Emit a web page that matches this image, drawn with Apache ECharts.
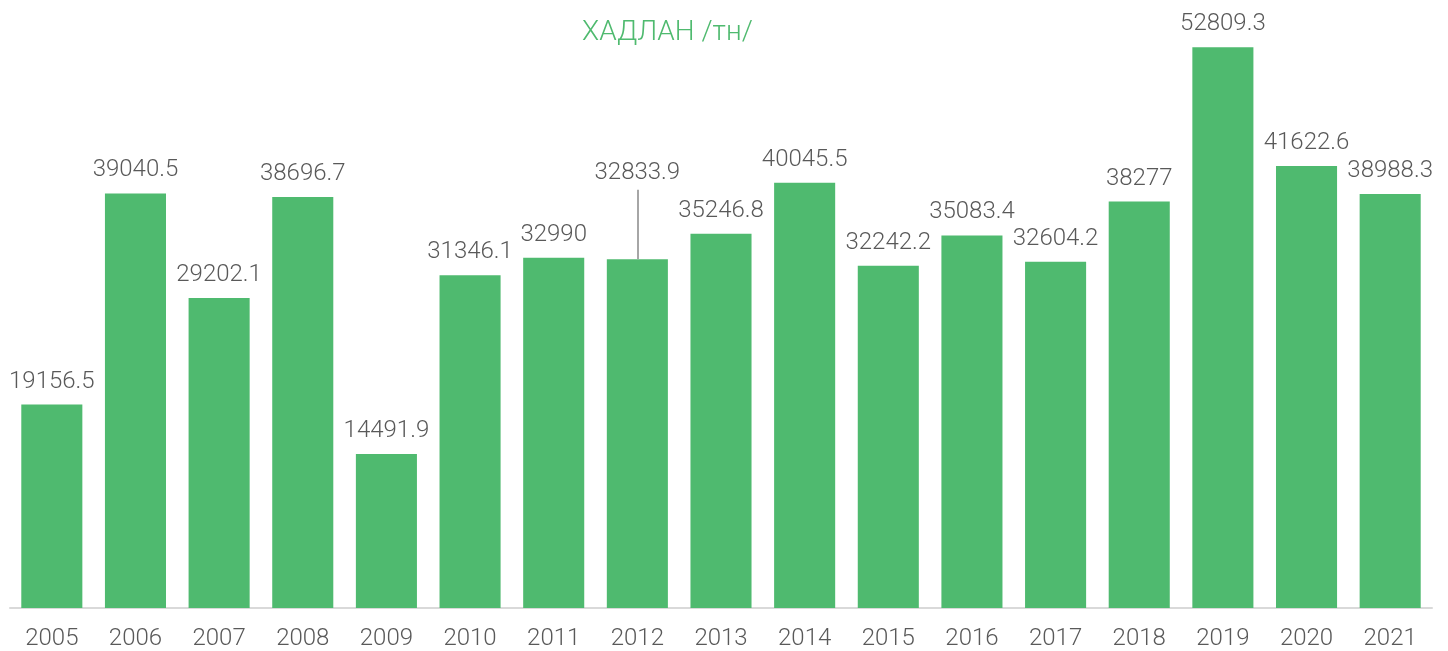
<!DOCTYPE html>
<html>
<head>
<meta charset="utf-8">
<script src="https://cdn.jsdelivr.net/npm/echarts@6/dist/echarts.min.js"></script>
<style>
  html, body { margin: 0; padding: 0; background: #fff; }
  #chart { width: 1448px; height: 651px; }
</style>
</head>
<body>
<div id="chart"></div>
<script>
// years on the x axis
var years = ['2005', '2006', '2007', '2008', '2009', '2010', '2011', '2012', '2013',
  '2014', '2015', '2016', '2017', '2018', '2019', '2020', '2021']
// ХАДЛАН, tonnes
var harvest = [19156.5, 39040.5, 29202.1, 38696.7, 14491.9, 31346.1, 32990, 32833.9, 35246.8,
  40045.5, 32242.2, 35083.4, 32604.2, 38277, 52809.3, 41622.6, 38988.3]

var green = '#4fba6f'
var textGray = '#595959'

var chart = echarts.init(document.getElementById('chart'))

var option = {
  backgroundColor: '#fff',
  animation: false,
  title: {
    text: 'ХАДЛАН /тн/',
    left: 577,
    top: 14,
    textStyle: {
      color: green,
      fontFamily: 'Roboto',
      fontWeight: 300,
      fontSize: 28
    }
  },
  grid: {
    left: 10,
    right: 16,
    top: 24,
    bottom: 42
  },
  xAxis: {
    type: 'category',
    data: years,
    axisTick: { show: false },
    axisLine: { lineStyle: { color: '#d9d9d9', width: 2 } },
    axisLabel: {
      color: textGray,
      fontFamily: 'Roboto',
      fontWeight: 300,
      fontSize: 24,
      margin: 19
    }
  },
  yAxis: {
    type: 'value',
    min: 0,
    max: 55000,
    show: false,
    splitLine: { show: false }
  },
  series: [
    {
      type: 'bar',
      data: harvest.map(function (v, i) {
        var item = { value: v }
        // 2012 label is pulled up with a leader line in the original
        if (years[i] === '2012') {
          item.label = { offset: [0, -63] }
        }
        return item
      }),
      barCategoryGap: '27%',
      itemStyle: { color: green },
      label: {
        show: true,
        position: 'top',
        distance: 11,
        color: textGray,
        fontFamily: 'Roboto',
        fontWeight: 300,
        fontSize: 24
      },
      markLine: {
        symbol: 'none',
        silent: true,
        label: { show: false },
        lineStyle: { color: '#a6a6a6', type: 'solid', width: 2 },
        data: [
          [
            { coord: ['2012', 32833.9] },
            { coord: ['2012', 39400] }
          ]
        ]
      }
    }
  ]
}

chart.setOption(option)
</script>
</body>
</html>
